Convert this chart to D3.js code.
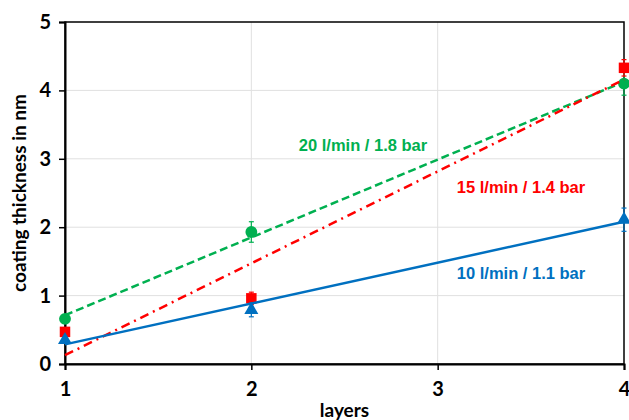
<!DOCTYPE html>
<html>
<head>
<meta charset="utf-8">
<script src="https://cdn.jsdelivr.net/npm/d3@7"></script>
<style>
  body { margin: 0; background: #fff; }
  .tick text { font-family: Lato, "Open Sans", sans-serif; font-weight: bold; font-size: 20px; fill: #000; }
</style>
</head>
<body>
<div id="chart"></div>
<script>
const layers = [1, 2, 4];
const xTicks = [1, 2, 3, 4];
const yTicks = [0, 1, 2, 3, 4, 5];

const green = [0.66, 1.93, 4.10];
const greenErr = [0.04, 0.15, 0.17];
const red = [0.47, 0.96, 4.33];
const redErr = [0.04, 0.09, 0.12];
const blue = [0.35, 0.79, 2.11];
const blueErr = [0.04, 0.10, 0.17];

const seriesNames = ["20 l/min / 1.8 bar", "15 l/min / 1.4 bar", "10 l/min / 1.1 bar"];

const width = 629, height = 420;
const margin = {top: 22, right: 5, bottom: 56, left: 65};

const svg = d3.select("#chart").append("svg")
    .attr("width", width)
    .attr("height", height);

const x = d3.scaleLinear().domain([1, 4]).range([margin.left, width - margin.right]);
const y = d3.scaleLinear().domain([0, 5]).range([height - margin.bottom, margin.top]);

// gridlines
svg.append("g").selectAll("line").data(yTicks.slice(1, -1)).join("line")
    .attr("x1", x(1)).attr("x2", x(4))
    .attr("y1", d => y(d)).attr("y2", d => y(d))
    .attr("stroke", "#e0e0e0").attr("stroke-width", 1);
svg.append("g").selectAll("line").data(xTicks.slice(1, -1)).join("line")
    .attr("x1", d => x(d)).attr("x2", d => x(d))
    .attr("y1", y(0)).attr("y2", y(5))
    .attr("stroke", "#e0e0e0").attr("stroke-width", 1);

// plot box
svg.append("rect")
    .attr("x", x(1)).attr("y", y(5))
    .attr("width", x(4) - x(1)).attr("height", y(0) - y(5))
    .attr("fill", "none").attr("stroke", "#000").attr("stroke-width", 1.5);

// axes
const xAxis = svg.append("g")
    .attr("transform", `translate(0,${y(0)})`)
    .call(d3.axisBottom(x).tickValues(xTicks).tickFormat(d3.format("d")).tickSize(6).tickPadding(12));
const yAxis = svg.append("g")
    .attr("transform", `translate(${x(1)},0)`)
    .call(d3.axisLeft(y).tickValues(yTicks).tickFormat(d3.format("d")).tickSize(6).tickPadding(8));
[xAxis, yAxis].forEach(a => {
    a.select(".domain").attr("stroke", "#000").attr("stroke-width", 2);
    a.selectAll(".tick line").attr("stroke", "#000").attr("stroke-width", 1.5);
});

svg.append("text")
    .attr("x", (x(1) + x(4)) / 2).attr("y", 417)
    .attr("text-anchor", "middle")
    .style("font-family", "Lato, sans-serif").style("font-weight", "bold").style("font-size", "19px")
    .text("layers");
svg.append("text")
    .attr("transform", `translate(26,${(y(0) + y(5)) / 2}) rotate(-90)`)
    .attr("text-anchor", "middle")
    .style("font-family", "Lato, sans-serif").style("font-weight", "bold").style("font-size", "19px")
    .text("coating thickness in nm");

// least squares trendline, like the spreadsheet one
function fit(vals) {
    const mx = d3.mean(layers), my = d3.mean(vals);
    const sxy = d3.sum(layers, (d, i) => (d - mx) * (vals[i] - my));
    const sxx = d3.sum(layers, d => (d - mx) * (d - mx));
    const b = sxy / sxx, a = my - b * mx;
    return [[1, a + b], [4, a + 4 * b]];
}

const series = [
    {name: seriesNames[0], vals: green, err: greenErr, color: "#00b050", dash: "8,4", shape: d3.symbolCircle, size: 110, lx: 363, ly: 145},
    {name: seriesNames[1], vals: red, err: redErr, color: "#ff0000", dash: "9,5,2,5", shape: d3.symbolSquare, size: 110, lx: 521, ly: 187},
    {name: seriesNames[2], vals: blue, err: blueErr, color: "#0070c0", dash: null, shape: d3.symbolTriangle, size: 85, lx: 521, ly: 273}
];

const line = d3.line().x(d => x(d[0])).y(d => y(d[1]));

series.forEach(s => {
    const g = svg.append("g");
    g.append("path")
        .attr("d", line(fit(s.vals)))
        .attr("fill", "none")
        .attr("stroke", s.color)
        .attr("stroke-width", 2.5)
        .attr("stroke-dasharray", s.dash);
    g.selectAll("line.err").data(s.vals).join("line")
        .attr("class", "err")
        .attr("x1", (d, i) => x(layers[i])).attr("x2", (d, i) => x(layers[i]))
        .attr("y1", (d, i) => y(d - s.err[i])).attr("y2", (d, i) => y(d + s.err[i]))
        .attr("stroke", s.color).attr("stroke-width", 1.2);
    g.selectAll("line.cap").data(s.vals.flatMap((d, i) => [[layers[i], d - s.err[i]], [layers[i], d + s.err[i]]])).join("line")
        .attr("class", "cap")
        .attr("x1", d => x(d[0]) - 2.5).attr("x2", d => x(d[0]) + 2.5)
        .attr("y1", d => y(d[1])).attr("y2", d => y(d[1]))
        .attr("stroke", s.color).attr("stroke-width", 1.2);
    g.selectAll("path.mark").data(s.vals).join("path")
        .attr("class", "mark")
        .attr("transform", (d, i) => `translate(${x(layers[i])},${y(d)})`)
        .attr("d", d3.symbol().type(s.shape).size(s.size))
        .attr("fill", s.color);
    svg.append("text")
        .attr("x", s.lx).attr("y", s.ly).attr("dy", "0.35em")
        .attr("text-anchor", "middle")
        .style("font-family", "'Liberation Sans', Arial, sans-serif").style("font-weight", "bold").style("font-size", "16.5px")
        .attr("fill", s.color)
        .text(s.name);
});
</script>
</body>
</html>
